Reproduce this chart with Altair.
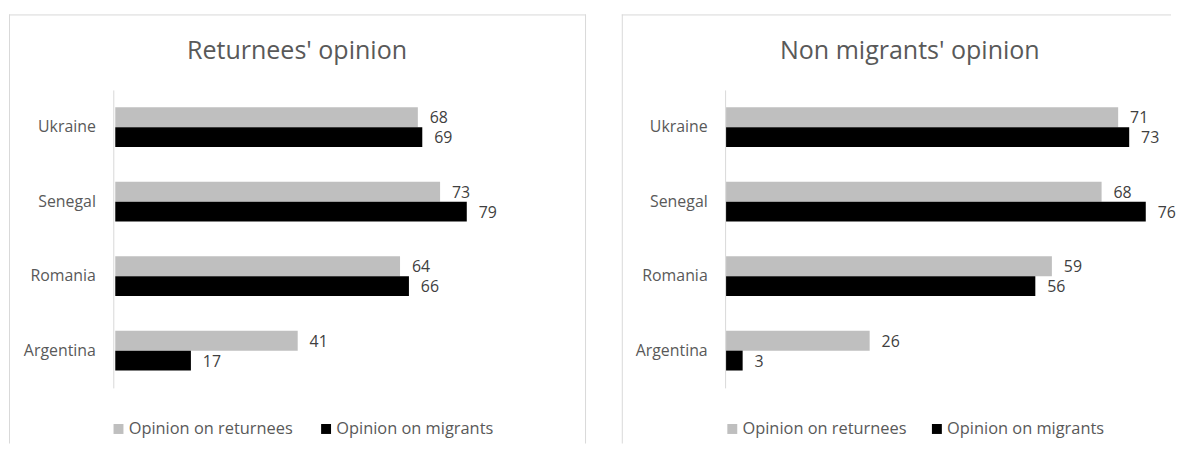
import altair as alt
import pandas as pd

countries = ["Ukraine", "Senegal", "Romania", "Argentina"]
series = ["Opinion on returnees", "Opinion on migrants"]
colors = ["#bfbfbf", "#000000"]

returnees_on_returnees = [68, 73, 64, 41]
returnees_on_migrants = [69, 79, 66, 17]
nonmig_on_returnees = [71, 68, 59, 26]
nonmig_on_migrants = [73, 76, 56, 3]

titles = ["Returnees' opinion", "Non migrants' opinion"]

FONT = "Open Sans"
H = 437


def panel_df(ret_vals, mig_vals):
    rows = []
    for c, r, m in zip(countries, ret_vals, mig_vals):
        rows.append({"country": c, "series": series[0], "value": r})
        rows.append({"country": c, "series": series[1], "value": m})
    return pd.DataFrame(rows)


def make_panel(title, ret_vals, mig_vals, width, x_domain, x_range, axis_x,
               title_x, legend_x, col_pad, right_border):
    df = panel_df(ret_vals, mig_vals)
    one = alt.Data(values=[{}])

    xs = alt.X("value:Q", scale=alt.Scale(domain=x_domain, range=x_range), axis=None)
    ys = alt.Y("country:N", sort=countries,
               scale=alt.Scale(range=[81, 381], paddingInner=0.4667, paddingOuter=0.2333),
               axis=alt.Axis(title=None, ticks=False, offset=-axis_x, labelPadding=18,
                             labelFont=FONT, labelFontSize=16, labelColor="#595959",
                             domainColor="#d9d9d9", domainWidth=1))
    yo = alt.YOffset("series:N", sort=series,
                     scale=alt.Scale(paddingInner=0, paddingOuter=0))

    bars = alt.Chart(df).mark_bar().encode(
        x=xs, y=ys, yOffset=yo,
        color=alt.Color("series:N", sort=series,
                        scale=alt.Scale(domain=series, range=colors),
                        legend=alt.Legend(title=None, orient="none", legendX=legend_x,
                                          legendY=414, direction="horizontal",
                                          symbolType="square", symbolSize=100,
                                          symbolStrokeWidth=0, labelFont=FONT,
                                          labelFontSize=16.5, labelColor="#595959",
                                          columnPadding=col_pad, labelOffset=2, padding=0,
                                          labelLimit=400)),
    )
    labels = alt.Chart(df).mark_text(align="left", baseline="middle", dx=12, dy=1,
                                     font=FONT, fontSize=16, color="#404040").encode(
        x=xs, y=ys, yOffset=yo, text=alt.Text("value:Q"))

    ttl = alt.Chart(pd.DataFrame({"t": [title]})).mark_text(
        font=FONT, fontSize=25.2, color="#595959", align="center",
        baseline="alphabetic").encode(text="t:N", x=alt.value(title_x), y=alt.value(50))

    top = alt.Chart(one).mark_rule(color="#d9d9d9", strokeWidth=1).encode(
        x=alt.value(0), x2=alt.value(width), y=alt.value(5.5))
    left = alt.Chart(one).mark_rule(color="#d9d9d9", strokeWidth=1).encode(
        x=alt.value(0.5), y=alt.value(5), y2=alt.value(H))
    layers = [top, left]
    if right_border:
        right = alt.Chart(one).mark_rule(color="#d9d9d9", strokeWidth=1).encode(
            x=alt.value(width - 0.5), y=alt.value(5), y2=alt.value(H))
        layers.append(right)

    return alt.layer(*layers, ttl, bars, labels).properties(width=width, height=H)


p1 = make_panel(titles[0], returnees_on_returnees, returnees_on_migrants, 581,
                [0, 90], [107, 107 + 4.48 * 90], 105, 290, 102, 25, True)
p2 = make_panel(titles[1], nonmig_on_returnees, nonmig_on_migrants, 553,
                [0, 80], [105, 105 + 5.56 * 80], 104, 290, 103, 22, False)

chart = alt.hconcat(p1, p2, spacing=34).resolve_scale(
    x="independent", y="independent", color="independent", yOffset="independent"
).resolve_legend(color="independent").configure(
    padding=0, background="white"
).configure_view(stroke=None)

chart.save("out.html", embed_options={"renderer": "svg", "actions": False})
